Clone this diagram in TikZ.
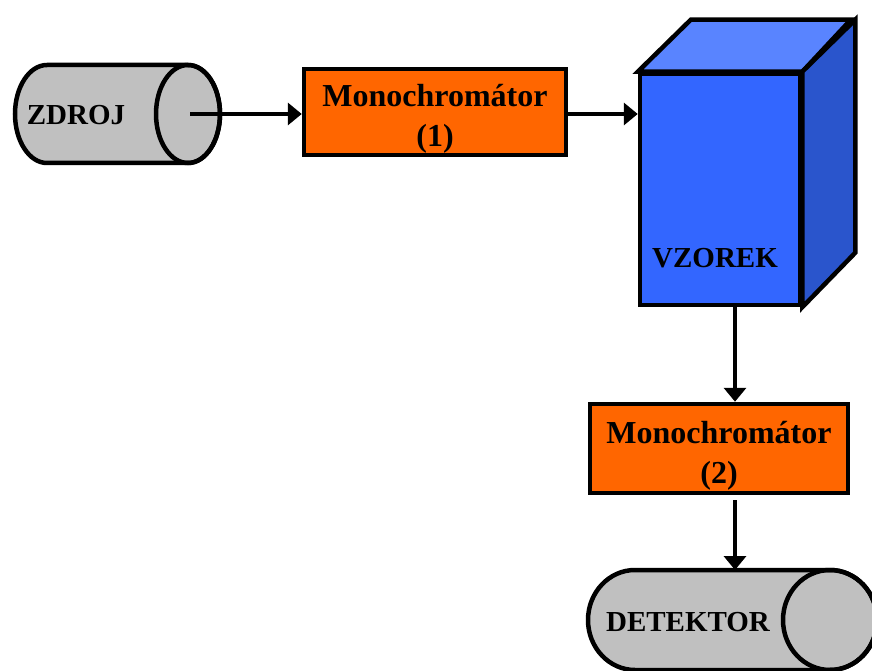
\documentclass[tikz,border=0pt]{standalone}
\usepackage{fontspec}
\setmainfont{Liberation Serif}
\usetikzlibrary{arrows.meta}

\definecolor{mono}{HTML}{FF6600}
\definecolor{tube}{HTML}{C0C0C0}
\definecolor{cubefront}{HTML}{3366FF}
\definecolor{cubetop}{HTML}{5984FF}
\definecolor{cubeside}{HTML}{2A55CC}

\tikzset{
  outline/.style={draw=black, line width=4.5pt, line join=miter},
  monobox/.style={outline, fill=mono, inner sep=0pt},
  monotext/.style={align=center, inner sep=0pt, yshift=-7,
    font=\fontsize{32}{40}\selectfont\bfseries},
  caption/.style={font=\fontsize{29}{35}\selectfont\bfseries, inner sep=0pt},
  beam/.style={line width=4.5pt, -{Triangle[length=14pt,width=22pt]}}
}

\begin{document}
\begin{tikzpicture}[x=1pt,y=1pt]
      \useasboundingbox (0,0) rectangle (872,670);
      \clip (0,0) rectangle (872,670);

      % source tube
      \draw[outline, fill=tube]
        (188,605) -- (47,605) arc[start angle=90, end angle=270, x radius=32, y radius=49]
        -- (188,507) arc[start angle=-90, end angle=90, x radius=32, y radius=49] -- cycle;
      \draw[outline] (188,556) ellipse[x radius=32, y radius=49];
      \coordinate (zdrojout) at (190,556);
      \node[caption] (zdroj) at (76,555) {ZDROJ};

      % detector tube
      \draw[outline, fill=tube]
        (830,100) -- (635,100) arc[start angle=90, end angle=270, x radius=47, y radius=50]
        -- (830,0) arc[start angle=-90, end angle=90, x radius=47, y radius=50] -- cycle;
      \draw[outline] (830,50) ellipse[x radius=47, y radius=50];
      \coordinate (detektorin) at (735,100);
      \node[caption] (detektor) at (688,48) {DETEKTOR};

      % monochromators
      \node[monobox, minimum width=262, minimum height=86] (mono1) at (435,558) {};
      \node[monotext] (mono1text) at (mono1.center) {Monochromátor\\(1)};
      \node[monobox, minimum width=258, minimum height=89] (mono2) at (719,221.5) {};
      \node[monotext] (mono2text) at (mono2.center) {Monochromátor\\(2)};

      % sample block
      \node[outline, fill=cubefront, minimum width=160, minimum height=231, inner sep=0pt]
        (vzorek) at (720,480.5) {};
      \draw[outline, fill=cubetop] (vzorek.north west) -- ++(53,52) -- ++(160,0)
        -- (vzorek.north east) -- cycle;
      \draw[outline, fill=cubeside] (vzorek.north east) -- ++(53,52) -- ++(0,-233)
        -- (vzorek.south east) -- cycle;
      \node[caption] (vzoreklabel) at (715,412) {VZOREK};
      \coordinate (vzorekout) at (735,363);

      \begin{scope}[beam]
        \draw (zdrojout) -- (zdrojout -| mono1.west);
        \draw (mono1.east |- zdrojout) -- (zdrojout -| vzorek.west);
        \draw (vzorekout) -- (vzorekout |- mono2.north);
        \draw (vzorekout |- mono2.south) ++(0,-5) -- (detektorin);
      \end{scope}
    \end{tikzpicture}
\end{document}
